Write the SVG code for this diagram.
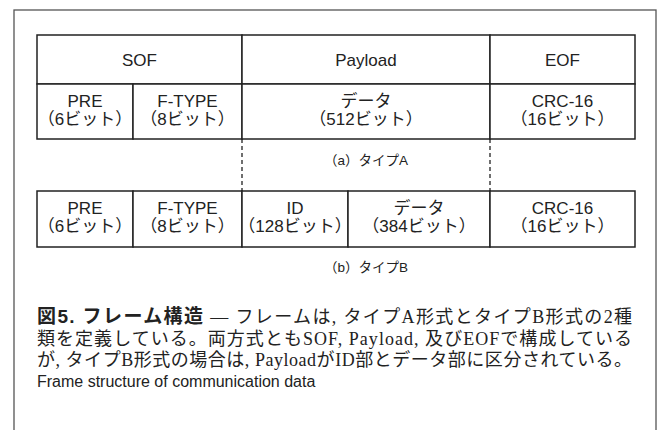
<svg xmlns="http://www.w3.org/2000/svg" width="662" height="430" viewBox="0 0 662 430">
<style>
.frame{fill:none;stroke:#555;stroke-width:1.3}
.cell{fill:#fff;stroke:#222;stroke-width:1.5}
.dash{stroke:#222;stroke-width:1.3;stroke-dasharray:4 3;fill:none}
.t{font-family:"Liberation Sans","Noto Sans CJK JP",sans-serif;font-size:17px;fill:#222;text-anchor:middle}
.s{font-family:"Liberation Sans","Noto Sans CJK JP",sans-serif;font-size:13.5px;fill:#222;text-anchor:middle}
.cap{font-family:"Liberation Serif","Noto Sans CJK JP",serif;font-size:18px;fill:#222}
.capb{font-family:"Liberation Sans","Noto Sans CJK JP",sans-serif;font-weight:bold;font-size:19px}
.en{font-family:"Liberation Sans",sans-serif;font-size:16px;fill:#222}
</style>
<rect class="frame" x="14" y="10" width="642" height="440"/>
<g id="connectors">
<line class="dash" x1="242" y1="139" x2="242" y2="191"/>
<line class="dash" x1="490" y1="139" x2="490" y2="191"/>
</g>
<g id="typeA">
<g id="sof"><rect class="cell" x="37" y="35" width="205" height="49"/><text class="t" x="139.5" y="66">SOF</text></g>
<g id="payload"><rect class="cell" x="242" y="35" width="248" height="49"/><text class="t" x="366" y="66">Payload</text></g>
<g id="eof"><rect class="cell" x="490" y="35" width="145" height="49"/><text class="t" x="562.5" y="66">EOF</text></g>
<g id="a-pre"><rect class="cell" x="37" y="84" width="96" height="55"/><text class="t" x="85" y="107">PRE</text><text class="t" x="85" y="125">（6ビット）</text></g>
<g id="a-ftype"><rect class="cell" x="133" y="84" width="109" height="55"/><text class="t" x="187.5" y="107">F-TYPE</text><text class="t" x="187.5" y="125">（8ビット）</text></g>
<g id="a-data"><rect class="cell" x="242" y="84" width="248" height="55"/><text class="t" x="366" y="107">データ</text><text class="t" x="366" y="125">（512ビット）</text></g>
<g id="a-crc"><rect class="cell" x="490" y="84" width="145" height="55"/><text class="t" x="562.5" y="107">CRC-16</text><text class="t" x="562.5" y="125">（16ビット）</text></g>
<text class="s" x="366" y="165">（a）タイプA</text>
</g>
<g id="typeB">
<g id="b-pre"><rect class="cell" x="37" y="191" width="96" height="56"/><text class="t" x="85" y="214">PRE</text><text class="t" x="85" y="232">（6ビット）</text></g>
<g id="b-ftype"><rect class="cell" x="133" y="191" width="109" height="56"/><text class="t" x="187.5" y="214">F-TYPE</text><text class="t" x="187.5" y="232">（8ビット）</text></g>
<g id="b-id"><rect class="cell" x="242" y="191" width="106" height="56"/><text class="t" x="295" y="214">ID</text><text class="t" x="295" y="232">（128ビット）</text></g>
<g id="b-data"><rect class="cell" x="348" y="191" width="142" height="56"/><text class="t" x="419" y="214">データ</text><text class="t" x="419" y="232">（384ビット）</text></g>
<g id="b-crc"><rect class="cell" x="490" y="191" width="145" height="56"/><text class="t" x="562.5" y="214">CRC-16</text><text class="t" x="562.5" y="232">（16ビット）</text></g>
<text class="s" x="366" y="272">（b）タイプB</text>
</g>
<g id="caption">
<text class="cap" x="37" y="323" textLength="595" lengthAdjust="spacing"><tspan class="capb">図5. フレーム構造</tspan> — フレームは, タイプA形式とタイプB形式の2種</text>
<text class="cap" x="37" y="345" textLength="595" lengthAdjust="spacing">類を定義している。両方式ともSOF, Payload, 及びEOFで構成している</text>
<text class="cap" x="37" y="366" textLength="595" lengthAdjust="spacing">が, タイプB形式の場合は, PayloadがID部とデータ部に区分されている。</text>
<text class="en" x="37" y="387">Frame structure of communication data</text>
</g>
</svg>
